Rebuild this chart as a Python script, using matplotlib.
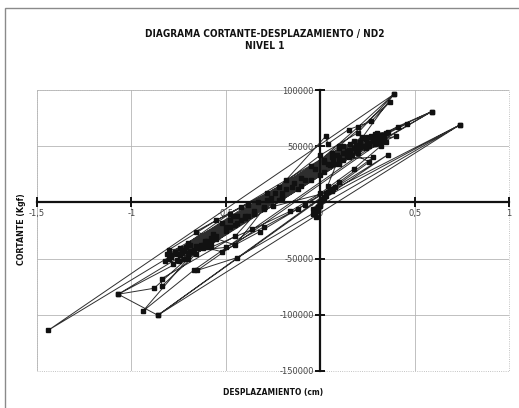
import matplotlib.pyplot as plt
from matplotlib.patches import Rectangle

# desplazamiento (cm) y cortante (kgf) en el orden del ensayo
desp = [
    0.00, 0.01, -0.01, 0.02, -0.02, 0.03, 0.00, 0.04, -0.03, 0.05,
    -0.02, 0.03, 0.36, 0.02, 0.74, -0.86, 0.05, -0.04, 0.07, 0.04,
    0.10, -0.55, 0.12, -0.58, 0.15, -0.62, -0.30, 0.18, -0.05, -0.35,
    -0.66, -0.40, 0.02, 0.22, 0.10, -0.30, -0.70, -0.50, -0.10, 0.25,
    0.05, -0.45, -0.72, -0.20, 0.20, 0.28, -0.15, -0.60, -0.75, -0.25,
    0.30, 0.15, -0.55, -0.68, 0.00, 0.26, -0.35, -0.78, -0.42, 0.08,
    0.32, 0.21, -0.48, -0.73, -0.64, 0.17, 0.24, -0.12, -0.69, -0.79,
    -0.76, 0.18, -0.52, -0.80, 0.10, 0.30, -0.28, -0.71, 0.22, 0.06,
    -0.46, -0.77, 0.13, 0.33, -0.18, -0.63, -0.82, 0.02, 0.24, -0.38,
    -0.74, 0.16, 0.34, -0.10, -0.57, -0.79, 0.09, 0.27, -0.33, -0.69,
    0.21, 0.12, -0.48, -0.76, -0.03, 0.29, 0.36, -0.24, -0.66, -0.81,
    0.07, 0.25, -0.14, -0.61, -0.72, 0.04, 0.19, 0.31, -0.26, -0.77,
    -0.50, -0.30, -0.08, 0.10, 0.28, 0.02, -0.22, -0.48, -0.70, -0.52,
    -0.32, -0.12, 0.08, 0.26, 0.14, -0.05, -0.28, -0.55, -0.80, -0.58,
    -0.36, -0.16, 0.00, 0.18, 0.32, 0.06, -0.18, -0.42, -0.66, -0.45,
    -0.30, 0.19, 0.29, 0.12, -0.58, -0.67, -0.22, 0.23, 0.35, 0.27,
    -0.20, -0.62, -0.74, -0.38, 0.14, 0.31, 0.40, 0.20, -0.44, -0.65,
    -0.70, -0.08, 0.26, 0.46, 0.28, -0.60, -0.84, -0.84, -0.45, 0.03,
    0.04, 0.15, 0.27, 0.37, 0.10, -0.40, -0.73, -0.79, -0.50, 0.00,
    0.20, 0.39, 0.22, -0.64, -0.88, -1.07, -0.60, 0.16, 0.41, 0.59,
    0.30, -0.67, -0.94, -0.70, 0.10, 0.35, 0.59, 0.33, -0.65, -0.44,
    -0.04, 0.00, 0.74, 0.04, -0.44, -1.44, 0.39, 0.20, -0.20, -0.60,
    -1.07, -0.86, 0.06, 0.02, -0.03, 0.00,
]
cortante = [
    0, 3000, -4000, 5000, -8000, 6000, -2000, 9000, -10000, 12000,
    -13000, 8000, 42600, 4000, 69000, -100400, 10000, -6000, 12000, 15000,
    40000, -33000, 44000, -36000, 47000, -41000, -5000, 48000, 20000, -10000,
    -46000, -14000, 27000, 50000, 36000, -4000, -48000, -25000, 15000, 52000,
    33000, -20000, -50000, 5000, 47000, 55000, 14000, -36000, -52000, -3000,
    56000, 40000, -30000, -44000, 24000, 50000, -8000, -55000, -16000, 34000,
    57000, 49000, -22000, -45000, -40000, 42000, 48000, 12000, -43000, -49000,
    -46000, 55000, -18000, -50000, 48000, 62000, 2000, -40000, 58000, 40000,
    -12000, -44000, 44000, 60000, 12000, -38000, -52000, 36000, 56000, -2000,
    -41000, 52000, 57000, 22000, -28000, -47000, 42000, 59000, 0, -38000,
    54000, 50000, -16000, -51000, 30000, 61000, 63000, 8000, -39000, -46000,
    38000, 58000, 17000, -34000, -43000, 34000, 51000, 60000, 4000, -45000,
    -40000, -22000, -2000, 18000, 40000, 38000, 14000, -10000, -36000, -44000,
    -26000, -6000, 14000, 36000, 46000, 32000, 8000, -16000, -42000, -40000,
    -24000, -8000, 8000, 30000, 50000, 44000, 20000, -4000, -26000, -38000,
    -6000, 46000, 52000, 38000, -32000, -42000, 2000, 50000, 54000, 58000,
    4000, -38000, -47000, -12000, 41000, 55000, 59000, 44000, -18000, -41000,
    -45000, 20000, 53000, 70000, 57000, -37000, -74600, -67800, -30000, 59000,
    52000, 64800, 72000, 89400, 50000, -12000, -42000, -49000, -22000, 42000,
    62000, 96200, 57000, -40000, -76400, -81700, -40000, 46000, 67500, 80800,
    53000, -60400, -96900, -50000, 34000, 62000, 80800, 55000, -60400, -49100,
    -10000, -3000, 69000, 9000, -12000, -113700, 96200, 67000, 8000, -34000,
    -81700, -100400, 10000, 3000, -6000, 0,
]

xticks = [-1.5, -1, -0.5, 0, 0.5, 1]
xtick_labels = ['-1,5', '-1', '-0,5', '0', '0,5', '1']
yticks = [-150000, -100000, -50000, 0, 50000, 100000]
ytick_labels = ['-150000', '-100000', '-50000', '0', '50000', '100000']

bold_kw = dict(fontweight='bold', fontstretch='condensed',
               family='DejaVu Sans', color='#111111')

fig = plt.figure(figsize=(5.19, 4.08), dpi=100)
ax = fig.add_axes([37 / 519, 1 - 371 / 408, 472 / 519, 281 / 408])

# marco exterior del grafico
fig.patches.append(Rectangle((5 / 519, -0.02), 1.1, 1 - 8 / 408 + 0.02,
                             transform=fig.transFigure, fill=False,
                             edgecolor='#8a8a8a', linewidth=1.0))

ax.plot(desp, cortante, color='#2e2e2e', linewidth=0.7,
        marker='s', markersize=3.0, markerfacecolor='#111111',
        markeredgecolor='#111111', zorder=3)

ax.set_xlim(-1.5, 1)
ax.set_ylim(-150000, 100000)
ax.set_xticks(xticks)
ax.set_xticklabels(xtick_labels)
ax.set_yticks(yticks)
ax.set_yticklabels(ytick_labels)

ax.grid(True, color='#b5b5b5', linewidth=0.6, zorder=0)

# ejes cruzando en el origen
ax.spines['left'].set_position(('data', 0))
ax.spines['bottom'].set_position(('data', 0))
for s in ['left', 'bottom']:
    ax.spines[s].set_linewidth(1.6)
    ax.spines[s].set_color('#111111')
    ax.spines[s].set_zorder(4)
for s in ['top', 'right']:
    ax.spines[s].set_visible(False)

# borde punteado del area de trazado
ax.add_patch(Rectangle((0, 0), 1, 1, transform=ax.transAxes, fill=False,
                       edgecolor='#b0b0b0', linewidth=0.6, linestyle=':',
                       zorder=1, clip_on=False))

ax.tick_params(axis='both', direction='inout', length=7, width=1.4,
               color='#111111', labelsize=6, labelcolor='#444444', pad=1.5)
ax.tick_params(axis='y', pad=1)

fig.text(265 / 519, 1 - 34 / 408, 'DIAGRAMA CORTANTE-DESPLAZAMIENTO / ND2',
         ha='center', va='center', fontsize=7.2, **bold_kw)
fig.text(265 / 519, 1 - 46 / 408, 'NIVEL 1', ha='center', va='center',
         fontsize=7.2, **bold_kw)
fig.text(22 / 519, 1 - 229 / 408, 'CORTANTE (Kgf)', rotation=90,
         ha='center', va='center', fontsize=6.3, **bold_kw)
fig.text(273 / 519, 1 - 392 / 408, 'DESPLAZAMIENTO (cm)', ha='center',
         va='center', fontsize=6, **bold_kw)

fig.savefig('out.png', dpi=100)
